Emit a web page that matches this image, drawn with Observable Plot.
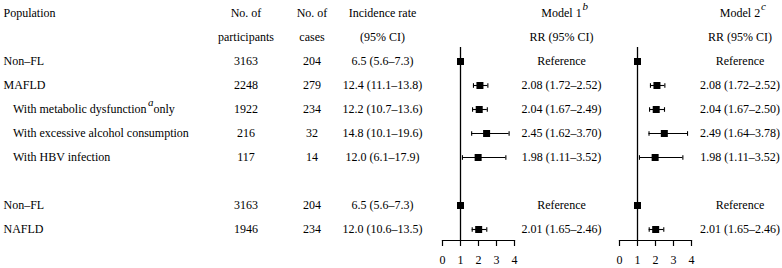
<!DOCTYPE html>
<html>
<head>
<meta charset="utf-8">
<script src="https://cdn.jsdelivr.net/npm/d3@7"></script>
<script src="https://cdn.jsdelivr.net/npm/@observablehq/plot@0.6"></script>
<style>
  body { margin: 0; background: #fff; }
  #chart { position: relative; width: 782px; height: 268px; overflow: hidden; }
  #chart svg { position: absolute; top: 0; }
</style>
</head>
<body>
<div id="chart"></div>
<script>
// ---------- data ----------
const rowKeys = ["nonfl1", "mafld", "meta", "alc", "hbv", "nonfl2", "nafld"];
const rowLabels = ["Non–FL", "MAFLD", "With metabolic dysfunction^a^only", "With excessive alcohol consumption", "With HBV infection", "Non–FL", "NAFLD"];
const rowIndented = [false, false, true, true, true, false, false];
const participants = [3163, 2248, 1922, 216, 117, 3163, 1946];
const cases = [204, 279, 234, 32, 14, 204, 234];
const incRate = [6.5, 12.4, 12.2, 14.8, 12.0, 6.5, 12.0];
const incLo = [5.6, 11.1, 10.7, 10.1, 6.1, 5.6, 10.6];
const incHi = [7.3, 13.8, 13.6, 19.6, 17.9, 7.3, 13.5];

const m1RR = [1, 2.08, 2.04, 2.45, 1.98, 1, 2.01];
const m1Lo = [null, 1.72, 1.67, 1.62, 1.11, null, 1.65];
const m1Hi = [null, 2.52, 2.49, 3.70, 3.52, null, 2.46];

const m2RR = [1, 2.08, 2.04, 2.49, 1.98, 1, 2.01];
const m2Lo = [null, 1.72, 1.67, 1.64, 1.11, null, 1.65];
const m2Hi = [null, 2.52, 2.50, 3.78, 3.52, null, 2.46];

const axisTicks = [0, 1, 2, 3, 4];

const headers1 = {pop: "Population", part: "No. of", cases: "No. of", inc: "Incidence rate", m1: "Model 1", m2: "Model 2"};
const headers2 = {part: "participants", cases: "cases", inc: "(95% CI)", m1: "RR (95% CI)", m2: "RR (95% CI)"};
const headerSup = {m1: "b", m2: "c"};
const refText = "Reference";

// ---------- layout (table column anchors, px) ----------
const yDomain = ["h1", "h2", "nonfl1", "mafld", "meta", "alc", "hbv", "gap", "nonfl2", "nafld"];
const colKeys = ["pop", "part", "cases", "inc", "m1", "m2"];
const colPos = [3, 245.5, 311.5, 382, 561, 739.5];
const colX = c => colPos[colKeys.indexOf(c.col)];
const font = '"Liberation Serif", "Times New Roman", serif';
const style = {fontFamily: font, fontSize: "12px", color: "black", background: "transparent", overflow: "visible"};

const fmtRR = (r, l, h) => l == null ? refText : `${r.toFixed(2)} (${l.toFixed(2)}–${h.toFixed(2)})`;

// ---------- table cells ----------
const cells = [];
for (const k of colKeys) {
  if (headers1[k]) cells.push({col: k, row: "h1", text: headers1[k]});
  if (headers2[k]) cells.push({col: k, row: "h2", text: headers2[k]});
}
rowKeys.forEach((r, i) => {
  cells.push({col: "pop", row: r, text: rowLabels[i], indent: rowIndented[i]});
  cells.push({col: "part", row: r, text: String(participants[i])});
  cells.push({col: "cases", row: r, text: String(cases[i])});
  cells.push({col: "inc", row: r, text: `${incRate[i].toFixed(1)} (${incLo[i].toFixed(1)}–${incHi[i].toFixed(1)})`});
  cells.push({col: "m1", row: r, text: fmtRR(m1RR[i], m1Lo[i], m1Hi[i])});
  cells.push({col: "m2", row: r, text: fmtRR(m2RR[i], m2Lo[i], m2Hi[i])});
});
const sups = Object.entries(headerSup).map(([col, text]) => ({col, row: "h1", text}));

const table = Plot.plot({
  width: 782, height: 268,
  marginLeft: 0, marginRight: 0, marginTop: 0, marginBottom: 0,
  style,
  x: {type: "identity"},
  y: {type: "point", domain: yDomain, range: [13, 229], padding: 0, axis: null},
  marks: [
    Plot.text(cells.filter(c => c.col === "pop" && !c.indent), {x: colX, y: "row", text: "text", textAnchor: "start", fill: "black"}),
    Plot.text(cells.filter(c => c.col === "pop" && c.indent), {x: colX, y: "row", text: "text", textAnchor: "start", dx: 9.5, fill: "black"}),
    Plot.text(cells.filter(c => c.col !== "pop"), {x: colX, y: "row", text: "text", textAnchor: "middle", fill: "black"}),
    Plot.text(sups, {x: colX, y: "row", text: "text", textAnchor: "start", dx: 21, dy: -7, fontStyle: "italic", fontSize: 11, fill: "black"})
  ]
});
table.style.left = "0px";

// superscript inside a label: "pre^sup^post"
table.querySelectorAll("text").forEach(t => {
  const s = t.textContent;
  if (s.includes("^")) {
    const [pre, sup, post] = s.split("^");
    while (t.firstChild) t.removeChild(t.firstChild);
    const ns = "http://www.w3.org/2000/svg";
    const a = document.createElementNS(ns, "tspan"); a.textContent = pre;
    const b = document.createElementNS(ns, "tspan"); b.textContent = sup;
    b.setAttribute("dy", "-7"); b.setAttribute("dx", "1.5");
    b.setAttribute("font-style", "italic"); b.setAttribute("font-size", "11");
    const c = document.createElementNS(ns, "tspan"); c.textContent = post;
    c.setAttribute("dy", "7");
    t.append(a, b, c);
  }
});

// ---------- forest panels ----------
const capSymbol = {
  draw(ctx, size) {
    const h = Math.sqrt(size / Math.PI);
    ctx.moveTo(0, -h); ctx.lineTo(0, h);
  }
};

function forest(rr, lo, hi) {
  const d = rowKeys.map((k, i) => ({row: k, rr: rr[i], lo: lo[i], hi: hi[i]}));
  const ci = d.filter(r => r.lo != null);
  const caps = ci.flatMap(r => [{row: r.row, x: r.lo}, {row: r.row, x: r.hi}]);
  return Plot.plot({
    width: 92, height: 268,
    marginLeft: 10, marginRight: 10, marginTop: 47, marginBottom: 28,
    style,
    x: {domain: [0, 4]},
    y: {type: "point", domain: yDomain, range: [13, 229], padding: 0, axis: null},
    marks: [
      Plot.frame({anchor: "bottom", stroke: "black", strokeWidth: 1.2}),
      Plot.ruleX([1], {stroke: "black", strokeWidth: 1.3}),
      Plot.ruleY(ci, {y: "row", x1: "lo", x2: "hi", stroke: "black", strokeWidth: 1.1}),
      Plot.dot(caps, {x: "x", y: "row", symbol: capSymbol, r: 2.3, stroke: "black", fill: "none", strokeWidth: 1.1}),
      Plot.dot(d, {x: "rr", y: "row", symbol: "square", r: 3.95, fill: "black", stroke: "none"}),
      Plot.axisX({ticks: axisTicks, tickSize: 6, tickPadding: 9, fontSize: 12, label: null, anchor: "bottom", tickFormat: v => String(v), strokeWidth: 1.2})
    ]
  });
}

const f1 = forest(m1RR, m1Lo, m1Hi);
f1.style.left = "432px";
const f2 = forest(m2RR, m2Lo, m2Hi);
f2.style.left = "609px";

const chart = document.getElementById("chart");
chart.append(table, f1, f2);
</script>
</body>
</html>
